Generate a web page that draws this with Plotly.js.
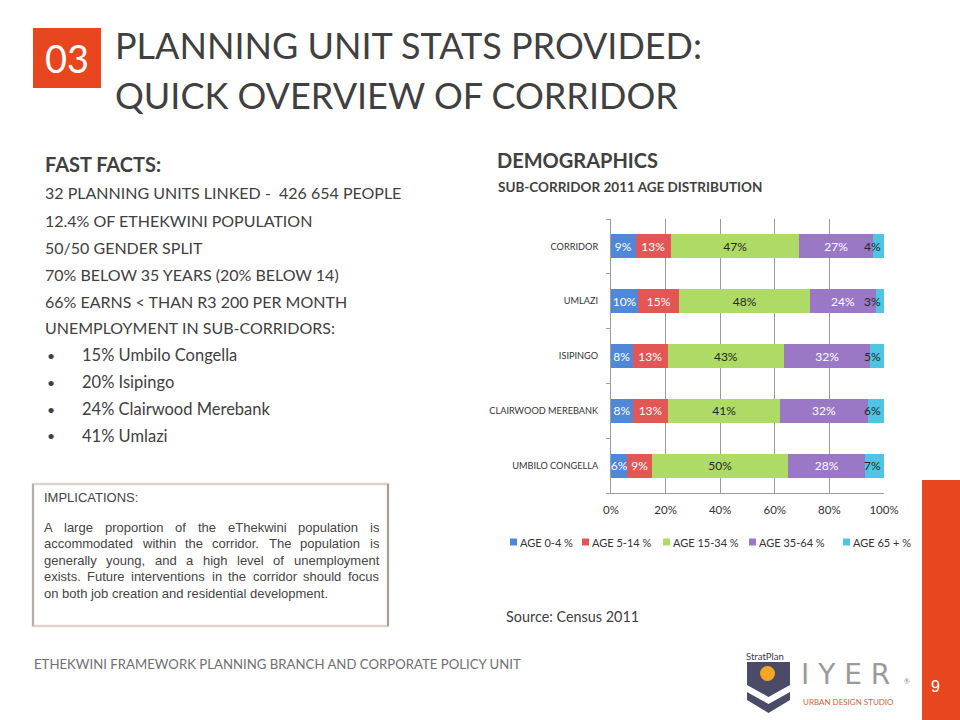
<!DOCTYPE html>
<html>
<head>
<meta charset="utf-8">
<script src="https://cdn.plot.ly/plotly-3.0.1.min.js"></script>
<style>html,body{margin:0;padding:0;background:#fff;}#chart{width:960px;height:720px;}</style>
</head>
<body>
<div id="chart"></div>
<script>
// ---- data ----
const categories = ['UMBILO CONGELLA', 'CLAIRWOOD MEREBANK', 'ISIPINGO', 'UMLAZI', 'CORRIDOR'];
const age0to4   = [6, 8, 8, 10, 9];
const age5to14  = [9, 13, 13, 15, 13];
const age15to34 = [50, 41, 43, 48, 47];
const age35to64 = [28, 32, 32, 24, 27];
const age65plus = [7, 6, 5, 3, 4];
const seriesNames = ['AGE 0-4 %', 'AGE 5-14 %', 'AGE 15-34 %', 'AGE 35-64 %', 'AGE 65 + %'];
const xTickVals = [0, 20, 40, 60, 80, 100];
const xTickText = ['0%', '20%', '40%', '60%', '80%', '100%'];

const factLines = [
  '32 PLANNING UNITS LINKED -  426 654 PEOPLE',
  '12.4% OF ETHEKWINI POPULATION',
  '50/50 GENDER SPLIT',
  '70% BELOW 35 YEARS (20% BELOW 14)',
  '66% EARNS &lt; THAN R3 200 PER MONTH',
  'UNEMPLOYMENT IN SUB-CORRIDORS:'
];
const bulletLines = ['15% Umbilo Congella', '20% Isipingo', '24% Clairwood Merebank', '41% Umlazi'];
const implicationLines = [
  'A large proportion of the eThekwini population is',
  'accommodated within the corridor.  The population is',
  'generally young, and a high level of unemployment',
  'exists.  Future interventions in the corridor should focus',
  'on both job creation and residential development.'
];

// ---- styling ----
const W = 960, H = 720;
const px = x => x / W;
const py = y => 1 - y / H;
const ORANGE = '#E8461E';
const TXT = '#404040';
const colors = ['#4F88D8', '#E25656', '#ADDB66', '#9A78C6', '#4CC6E2'];
const textColors = ['#ffffff', '#ffffff', '#262626', '#ffffff', '#262626'];
const series = [age0to4, age5to14, age15to34, age35to64, age65plus];

const traces = series.map((vals, i) => ({
  type: 'bar',
  orientation: 'h',
  name: seriesNames[i],
  y: categories,
  x: vals,
  text: vals.map(v => v + '%'),
  textposition: 'inside',
  insidetextanchor: i === 4 ? 'end' : 'middle',
  textangle: 0,
  constraintext: 'none',
  cliponaxis: false,
  textfont: {family: 'Lato, sans-serif', size: 12, color: textColors[i]},
  marker: {color: colors[i], line: {width: 0}},
  hoverinfo: 'skip'
}));

const ann = [];
function txt(text, x, y, size, opts) {
  ann.push(Object.assign({
    text: text, xref: 'paper', yref: 'paper', x: px(x), y: py(y),
    xanchor: 'left', yanchor: 'middle', showarrow: false, borderpad: 0,
    font: {family: 'Lato, sans-serif', size: size, color: TXT}
  }, opts || {}));
}
// header
txt('03', 67, 58, 38, {xanchor: 'center', font: {family: 'Lato, sans-serif', size: 38, color: '#ffffff'}});
txt('PLANNING UNIT STATS PROVIDED:', 114, 45, 36);
txt('QUICK OVERVIEW OF CORRIDOR', 114, 95, 36);
// fast facts
txt('<b>FAST FACTS:</b>', 44, 164, 20);
factLines.forEach((l, i) => txt(l, 44, 193 + i * 27, 16));
bulletLines.forEach((l, i) => {
  txt('•', 46, 355 + i * 27, 14);
  txt(l, 81, 355 + i * 27, 16.5);
});
// chart headings
txt('<b>DEMOGRAPHICS</b>', 496, 160, 20);
txt('<b>SUB-CORRIDOR 2011 AGE DISTRIBUTION</b>', 497, 187, 13.5);
txt('Source: Census 2011', 505, 616, 14.4);

// implications (justified like the original text box)
const IMPL_FONT = 'Liberation Sans, Arial, sans-serif';
const IMPL_SIZE = 13;
txt('IMPLICATIONS:', 43, 497, IMPL_SIZE, {font: {family: IMPL_FONT, size: IMPL_SIZE, color: '#444'}});
const ctx = document.createElement('canvas').getContext('2d');
ctx.font = IMPL_SIZE + 'px "Liberation Sans", Arial, sans-serif';
implicationLines.forEach((line, li) => {
  const y = 527 + li * 16.6;
  const f = {family: IMPL_FONT, size: IMPL_SIZE, color: '#444'};
  if (li === implicationLines.length - 1) { txt(line, 43, y, IMPL_SIZE, {font: f}); return; }
  const words = line.split(/\s+/);
  const widths = words.map(w => ctx.measureText(w).width);
  const total = widths.reduce((a, b) => a + b, 0);
  const gap = (378 - 43 - total) / (words.length - 1);
  let x = 43;
  words.forEach((w, i) => { txt(w, x, y, IMPL_SIZE, {font: f}); x += widths[i] + gap; });
});

// legend (compact, like the original chart legend)
const legendX = [510, 582, 663, 749, 843];
seriesNames.forEach((n, i) => {
  txt(n, legendX[i] + 9, 542, 11, {font: {family: 'Lato, sans-serif', size: 11, color: '#333'}});
});

// footer
txt('ETHEKWINI FRAMEWORK PLANNING BRANCH AND CORPORATE POLICY UNIT', 33, 664, 13.2, {font: {family: 'Lato, sans-serif', size: 13.2, color: '#707070'}});
txt('9', 935, 686, 16, {xanchor: 'center', font: {family: 'Liberation Sans, Arial, sans-serif', size: 16, color: '#ffffff'}});
// logo text
txt('StratPlan', 745, 656, 9.5, {font: {family: 'Lato, sans-serif', size: 9.5, color: '#3a3a50'}});
txt('I Y E R', 800, 674, 28, {font: {family: 'DejaVu Sans ExtraLight, DejaVu Sans, sans-serif', size: 28, color: '#9a9a9a'}});
txt('®', 903, 681, 7, {font: {family: 'Lato, sans-serif', size: 7, color: '#8a8a8a'}});
txt('URBAN DESIGN STUDIO', 802, 702, 8, {font: {family: 'Lato, sans-serif', size: 8, color: '#D0643A'}});

const shapes = [
  {type: 'rect', xref: 'paper', yref: 'paper', x0: px(33), x1: px(101), y0: py(28), y1: py(88), fillcolor: ORANGE, line: {width: 0}, layer: 'below'},
  {type: 'rect', xref: 'paper', yref: 'paper', x0: px(922), x1: px(960), y0: py(480), y1: py(720), fillcolor: ORANGE, line: {width: 0}, layer: 'below'},
  // implications box
  {type: 'rect', xref: 'paper', yref: 'paper', x0: px(33), x1: px(388), y0: py(484), y1: py(626), fillcolor: 'rgba(0,0,0,0)', line: {color: '#DDD3C6', width: 2.5}, layer: 'below'},
  {type: 'line', xref: 'paper', yref: 'paper', x0: px(33), x1: px(33), y0: py(484), y1: py(626), line: {color: '#8C8C8C', width: 1}},
  {type: 'line', xref: 'paper', yref: 'paper', x0: px(388), x1: px(388), y0: py(484), y1: py(626), line: {color: '#8C8C8C', width: 1.5}},
  // logo
  {type: 'path', xref: 'paper', yref: 'paper', path: `M${px(747)},${py(662)} L${px(790)},${py(662)} L${px(790)},${py(685)} L${px(768.5)},${py(697)} L${px(747)},${py(685)} Z`, fillcolor: '#4B4B68', line: {width: 0}},
  {type: 'path', xref: 'paper', yref: 'paper', path: `M${px(747)},${py(692)} L${px(768.5)},${py(704)} L${px(790)},${py(692)} L${px(790)},${py(700)} L${px(768.5)},${py(713)} L${px(747)},${py(700)} Z`, fillcolor: '#4B4B68', line: {width: 0}},
  {type: 'circle', xref: 'paper', yref: 'paper', x0: px(760), x1: px(775), y0: py(666), y1: py(681), fillcolor: '#F5A623', line: {width: 0}}
];
// legend swatches
legendX.forEach((x, i) => shapes.push({type: 'rect', xref: 'paper', yref: 'paper', x0: px(x), x1: px(x + 7), y0: py(538.5), y1: py(545.5), fillcolor: colors[i], line: {width: 0}}));

const layout = {
  width: W, height: H,
  margin: {l: 0, r: 0, t: 0, b: 0},
  paper_bgcolor: '#ffffff', plot_bgcolor: 'rgba(0,0,0,0)',
  barmode: 'stack', barnorm: 'percent', bargap: 0.56,
  showlegend: false,
  font: {family: 'Lato, sans-serif', color: '#333'},
  xaxis: {
    domain: [px(611), px(884)], range: [0, 100], tickvals: xTickVals, ticktext: xTickText,
    showgrid: true, gridcolor: '#9a9a9a', gridwidth: 1, zeroline: false,
    showline: true, linecolor: '#9a9a9a', ticks: '', tickfont: {family: 'Lato, sans-serif', size: 11.5, color: '#333'},
    ticklabelstandoff: 6, fixedrange: true
  },
  yaxis: {
    domain: [py(493), py(219)], type: 'category', categoryorder: 'array', categoryarray: categories,
    showline: true, linecolor: '#9a9a9a', ticks: 'outside', ticklen: 4, tickcolor: '#9a9a9a', tickson: 'boundaries',
    tickfont: {family: 'Lato, sans-serif', size: 9.2, color: '#333'}, ticklabelstandoff: 10, showgrid: false, fixedrange: true
  },
  annotations: ann,
  shapes: shapes
};

Plotly.newPlot('chart', traces, layout, {displayModeBar: false, staticPlot: true});
</script>
</body>
</html>
